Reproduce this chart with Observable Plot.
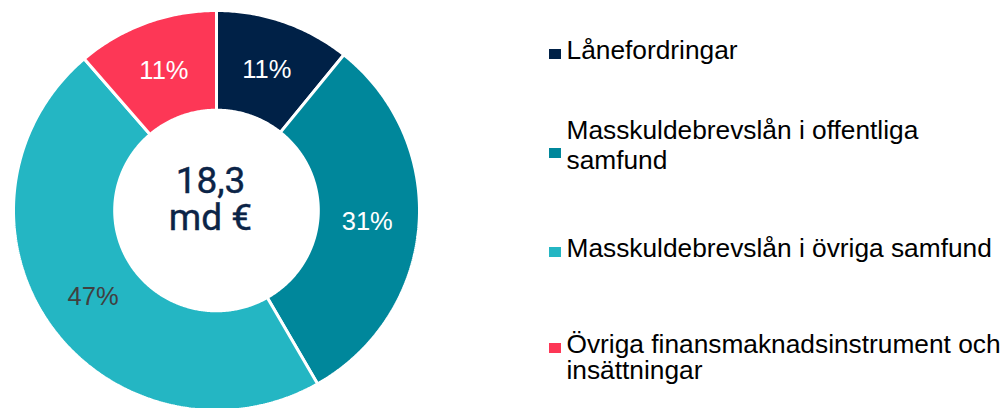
<!DOCTYPE html>
<html><head><meta charset="utf-8">
<script src="https://cdn.jsdelivr.net/npm/d3@7"></script>
<script src="https://cdn.jsdelivr.net/npm/@observablehq/plot@0.6"></script>
<style>
html,body{margin:0;padding:0;background:#fff;}
#wrap{position:relative;width:1006px;height:408px;overflow:hidden;}
#chart{position:absolute;left:0;top:0;}
.leg{position:absolute;left:566.5px;font-family:"Liberation Sans",Arial,sans-serif;font-size:26.3px;color:#000;white-space:nowrap;}
.sw{position:absolute;left:549px;width:11.5px;height:10px;}
</style></head><body><div id="wrap"><div id="chart"></div></div>
<script>
// ---- data ----
const categories = ["Lånefordringar", "Masskuldebrevslån i offentliga samfund", "Masskuldebrevslån i övriga samfund", "Övriga finansmaknadsinstrument och insättningar"];
const shares = [10.8, 30.9, 47.0, 11.3];
const shareLabels = ["11%", "31%", "47%", "11%"];
const colors = ["#002147", "#00879b", "#24b6c3", "#fd3756"];
const labelColors = ["#ffffff", "#ffffff", "#404040", "#ffffff"];
const centerText = ["18,3", "md €"];
const legendLines = [["Lånefordringar"], ["Masskuldebrevslån i offentliga", "samfund"], ["Masskuldebrevslån i övriga samfund"], ["Övriga finansmaknadsinstrument och", "insättningar"]];

// ---- geometry (unit circle) ----
const R0 = 0.5015, R1 = 1, RL = 0.745;
const arcs = d3.pie().sort(null).value(d => d)(shares);
const pts = [];
arcs.forEach((a, i) => {
  const n = Math.max(8, Math.ceil((a.endAngle - a.startAngle) / 0.01));
  for (let k = 0; k <= n; k++) { const t = a.startAngle + (a.endAngle - a.startAngle) * k / n; pts.push({cat: categories[i], x: Math.sin(t) * R1, y: Math.cos(t) * R1}); }
  for (let k = n; k >= 0; k--) { const t = a.startAngle + (a.endAngle - a.startAngle) * k / n; pts.push({cat: categories[i], x: Math.sin(t) * R0, y: Math.cos(t) * R0}); }
});
const labels = arcs.map((a, i) => { const m = (a.startAngle + a.endAngle) / 2; return {cat: categories[i], label: shareLabels[i], x: Math.sin(m) * RL, y: Math.cos(m) * RL, color: labelColors[i]}; });
const labelColorSet = Array.from(new Set(labelColors));

const chart = Plot.plot({
  width: 1006, height: 408, margin: 0,
  x: {domain: [-1, 1], range: [13, 419], axis: null},
  y: {domain: [-1, 1], range: [410, 10], axis: null},
  color: {domain: categories, range: colors},
  style: {background: "transparent"},
  marks: [
    Plot.line(pts, {x: "x", y: "y", z: "cat", fill: "cat", stroke: "white", strokeWidth: 3, curve: "linear-closed", strokeLinejoin: "miter"}),
    ...labelColorSet.map(c => Plot.text(labels, {filter: d => d.color === c, x: "x", y: "y", text: "label", fill: c, fontSize: 25.5, fontFamily: "Liberation Sans, Arial, sans-serif"})),
    Plot.text([{x: 0, y: 0, t: centerText.join("\n")}], {x: "x", y: "y", text: "t", fill: "#0b2447", fontSize: 37, fontFamily: "Roboto, sans-serif", lineHeight: 1, dx: -6, dy: -11, stroke: "#0b2447", strokeWidth: 0.4})
  ]
});
document.getElementById("chart").appendChild(chart);

// ---- legend (HTML, right side) ----
const legBaselines = [59.3, 140, 257.3, 353.3];
const legLineHeights = [29, 29.3, 29, 26.4];
const swatchTops = [49.3, 147.7, 247.3, 343.3];
const wrap = document.getElementById("wrap");
const fs = 26.3;
legendLines.forEach((lines, i) => {
  const L = legLineHeights[i];
  const base = (L - fs * 1.117) / 2 + fs * 0.905;
  const div = document.createElement("div");
  div.className = "leg";
  div.style.top = (legBaselines[i] - base) + "px";
  div.style.lineHeight = L + "px";
  div.innerHTML = lines.map(s => s.replace(/&/g, "&amp;")).join("<br>");
  wrap.appendChild(div);
  const sw = document.createElement("div");
  sw.className = "sw";
  sw.style.top = swatchTops[i] + "px";
  sw.style.background = colors[i];
  wrap.appendChild(sw);
});
</script></body></html>
